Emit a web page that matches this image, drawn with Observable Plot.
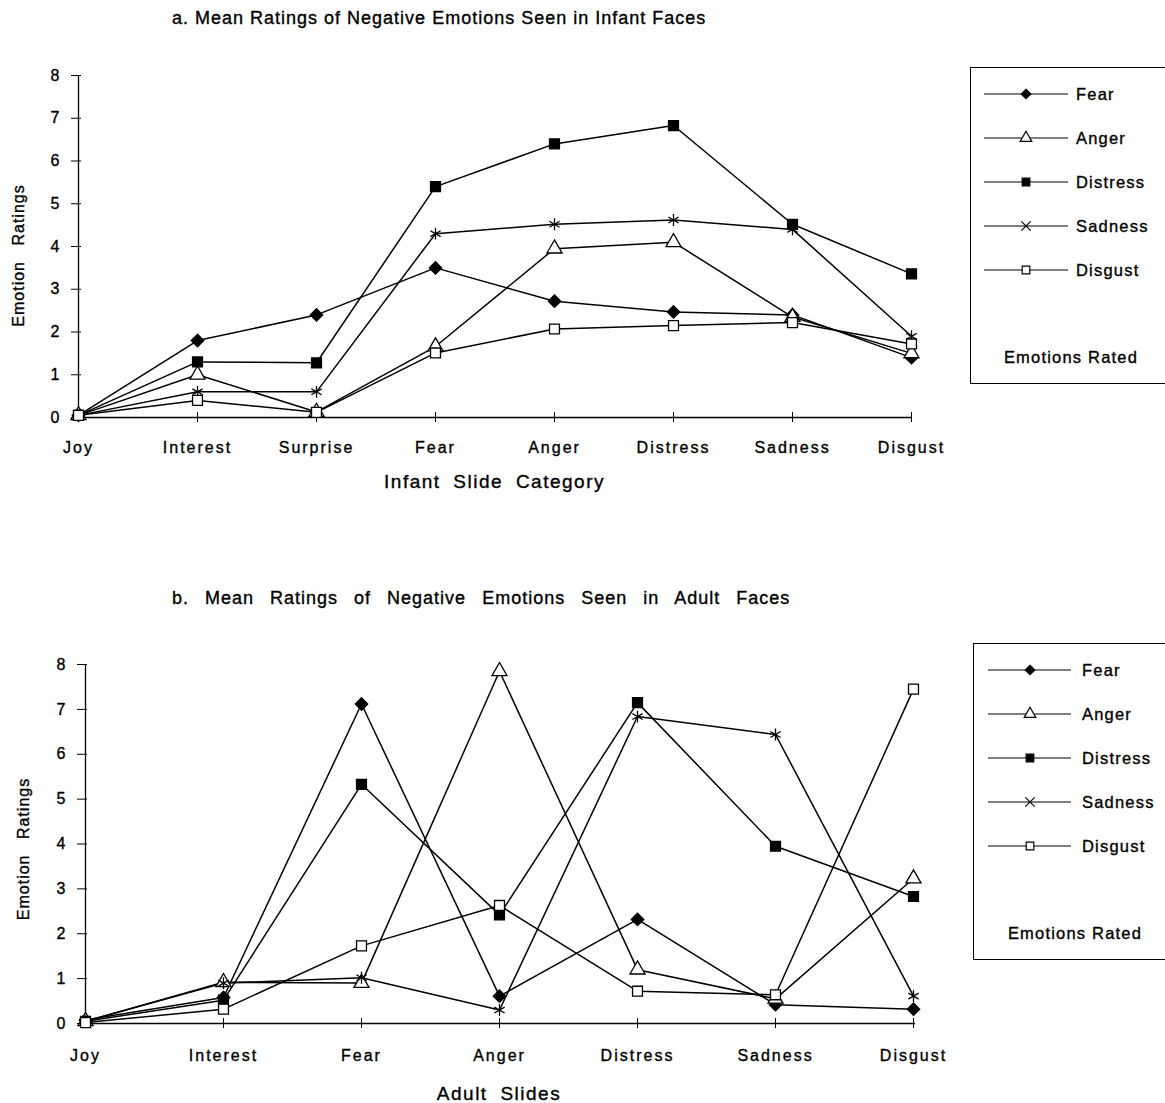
<!DOCTYPE html>
<html>
<head>
<meta charset="utf-8">
<script src="https://cdn.jsdelivr.net/npm/d3@7"></script>
<script src="https://cdn.jsdelivr.net/npm/@observablehq/plot@0.6"></script>
<style>
  body { margin: 0; background: #fff; }
  #page { position: relative; width: 1165px; height: 1103px; overflow: hidden; background: #fff;
          font-family: "Liberation Sans", Arial, Helvetica, sans-serif; color: #000; }
  .title { position: absolute; white-space: nowrap; font-size: 18px; line-height: 20px; -webkit-text-stroke: 0.35px #000; }
  .legend { position: absolute; border: 1.3px solid #000; box-sizing: border-box; background: #fff; }
  .legend text { font-family: "Liberation Sans", Arial, sans-serif; font-size: 16.5px; letter-spacing: 1.2px; }
  #page svg text { stroke: #000; stroke-width: 0.35px; }
  g[aria-label="x-axis tick label"] text { letter-spacing: 2px; }
  g[aria-label="y-axis tick label"] text { font-size: 16px; }
</style>
</head>
<body>
<div id="page"></div>
<script>
// ---------- data ----------
const emotions = ["Fear", "Anger", "Distress", "Sadness", "Disgust"];
const symbolNames = ["diamond2", "triangle", "square", "asterisk", "square"];
const symbolFills = ["black", "white", "black", "black", "white"];
const yTicks = [0, 1, 2, 3, 4, 5, 6, 7, 8];

// Panel a: infant slides
const infantCategories = ["Joy", "Interest", "Surprise", "Fear", "Anger", "Distress", "Sadness", "Disgust"];
const infantFear     = [0.05, 1.80, 2.40, 3.50, 2.72, 2.47, 2.40, 1.40];
const infantAnger    = [0.05, 1.00, 0.13, 1.66, 3.95, 4.10, 2.35, 1.50];
const infantDistress = [0.05, 1.30, 1.28, 5.40, 6.40, 6.83, 4.52, 3.36];
const infantSadness  = [0.05, 0.60, 0.60, 4.30, 4.52, 4.62, 4.40, 1.90];
const infantDisgust  = [0.05, 0.40, 0.12, 1.51, 2.07, 2.15, 2.22, 1.72];

// Panel b: adult slides
const adultCategories = ["Joy", "Interest", "Fear", "Anger", "Distress", "Sadness", "Disgust"];
const adultFear     = [0.08, 0.58, 7.12, 0.61, 2.32, 0.42, 0.32];
const adultAnger    = [0.05, 0.92, 0.90, 7.85, 1.20, 0.55, 3.23];
const adultDistress = [0.05, 0.52, 5.33, 2.42, 7.15, 3.95, 2.83];
const adultSadness  = [0.05, 0.90, 1.02, 0.30, 6.84, 6.44, 0.61];
const adultDisgust  = [0.02, 0.32, 1.73, 2.63, 0.72, 0.64, 7.45];

const infantTitle = "a. Mean Ratings of Negative Emotions Seen in Infant Faces";
const adultTitle = "b. Mean Ratings of Negative Emotions Seen in Adult Faces";
const yTitle = "Emotion Ratings";
const infantXTitle = "Infant Slide Category";
const adultXTitle = "Adult Slides";
const legendTitle = "Emotions Rated";

function toRows(categories, seriesArrays) {
  const rows = [];
  emotions.forEach((e, i) => {
    seriesArrays[i].forEach((v, j) => rows.push({series: e, category: categories[j], value: v}));
  });
  return rows;
}

const page = document.getElementById("page");

function panel(cfg) {
  const {categories, rows, top, width, height, ml, mr, mt, mb, xTitle, xTitleDy, yTitleDx, yTitleDy, labelPad} = cfg;
  const frameW = width - ml - mr;
  const frameH = height - mt - mb;
  const chart = Plot.plot({
    width, height,
    marginLeft: ml, marginRight: mr, marginTop: mt, marginBottom: mb,
    x: {type: "point", domain: categories, padding: 0},
    y: {domain: [0, 8]},
    symbol: {domain: emotions, range: symbolNames},
    color: {type: "ordinal", domain: emotions, range: symbolFills},
    style: {fontFamily: "'Liberation Sans', Arial, Helvetica, sans-serif", fontSize: "16px", color: "black", background: "white", overflow: "visible"},
    marks: [
      Plot.ruleY([0], {stroke: "black", strokeWidth: 1.3}),
      Plot.ruleX([categories[0]], {y1: 0, y2: 8, stroke: "black", strokeWidth: 1.3}),
      Plot.axisY({ticks: yTicks, tickSize: 5, tickPadding: 12, label: null, stroke: "black"}),
      Plot.tickY(yTicks, {y: d => d, insetRight: frameW - 5, stroke: "black"}),
      Plot.axisX({ticks: categories.slice(1), tickSize: 5, tickFormat: () => "", label: null, stroke: "black"}),
      Plot.tickX(categories.slice(1), {x: d => d, insetTop: frameH - 5, stroke: "black"}),
      Plot.axisX({ticks: categories, tickSize: 0, tickPadding: labelPad, label: null, fontSize: 16}),
      Plot.line(rows, {x: "category", y: "value", z: "series", stroke: "black", strokeWidth: 1.5}),
      Plot.dot(rows, {x: "category", y: "value", symbol: "series", fill: "series", stroke: "black", strokeWidth: 1.3, r: 5.6}),
      Plot.text([xTitle], {frameAnchor: "bottom", dy: xTitleDy, fontSize: 19, fill: "black"}),
      Plot.text([yTitle], {frameAnchor: "left", textAnchor: "middle", rotate: -90, dx: yTitleDx, dy: yTitleDy, fontSize: 16, fill: "black"})
    ]
  });
  chart.style.position = "absolute";
  chart.style.top = top + "px";
  chart.style.left = "0px";
  const texts = d3.select(chart).selectAll("text");
  texts.filter(function() { return this.textContent === xTitle; })
    .style("letter-spacing", "1.5px").style("word-spacing", "6px");
  texts.filter(function() { return this.textContent === yTitle; })
    .style("letter-spacing", "1px").style("word-spacing", "10px");
  page.appendChild(chart);
}

function title(text, left, top, extra) {
  const d = document.createElement("div");
  d.className = "title";
  d.textContent = text;
  d.style.left = left + "px";
  d.style.top = top + "px";
  Object.assign(d.style, extra || {});
  page.appendChild(d);
}

function legend(left, top, lineX1, symX, lineX2, textX, footX) {
  const box = d3.select(page).append("div").attr("class", "legend")
    .style("left", left + "px").style("top", top + "px")
    .style("width", "210px").style("height", "317px");
  const svg = box.append("svg").attr("width", 210).attr("height", 315).style("display", "block");
  emotions.forEach((e, i) => {
    const g = svg.append("g").attr("transform", `translate(0,${26 + 44 * i})`);
    g.append("line").attr("x1", lineX1).attr("x2", lineX2).attr("stroke", "black").attr("stroke-width", 1.2);
    const type = {diamond2: d3.symbolDiamond2, triangle: d3.symbolTriangle, square: d3.symbolSquare, asterisk: d3.symbolTimes}[symbolNames[i]];
    g.append("path").attr("d", d3.symbol(type, Math.PI * 4.3 * 4.3)())
      .attr("transform", `translate(${symX},0)`)
      .attr("fill", symbolNames[i] === "asterisk" ? "none" : symbolFills[i])
      .attr("stroke", "black").attr("stroke-width", 1.2);
    g.append("text").attr("x", textX).attr("dy", "0.35em").text(e);
  });
  svg.append("text").attr("x", footX).attr("y", 289).attr("dy", "0.35em").attr("text-anchor", "middle").text(legendTitle);
}

panel({
  categories: infantCategories,
  rows: toRows(infantCategories, [infantFear, infantAnger, infantDistress, infantSadness, infantDisgust]),
  top: 0, width: 960, height: 500, ml: 76, mr: 48, mt: 75, mb: 83,
  xTitle: infantXTitle, xTitleDy: 70, yTitleDx: -58, yTitleDy: 9, labelPad: 24
});
panel({
  categories: adultCategories,
  rows: toRows(adultCategories, [adultFear, adultAnger, adultDistress, adultSadness, adultDisgust]),
  top: 560, width: 960, height: 543, ml: 82, mr: 45, mt: 104, mb: 80,
  xTitle: adultXTitle, xTitleDy: 76, yTitleDx: -59, yTitleDy: 5, labelPad: 26
});

title(infantTitle, 172, 8, {letterSpacing: "1px"});
title(adultTitle, 172, 588, {letterSpacing: "1px", wordSpacing: "10px"});

legend(970, 67, 13, 55, 97, 105, 100);
legend(973, 643, 14, 56, 97, 108, 101);
</script>
</body>
</html>
